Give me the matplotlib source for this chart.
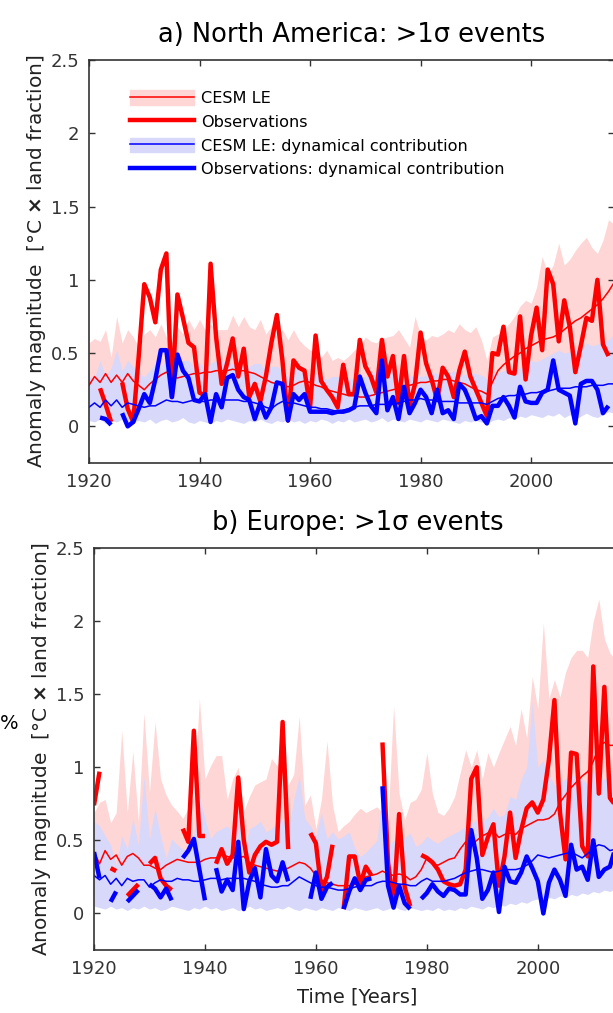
import numpy as np
import matplotlib
matplotlib.use("Agg")
import matplotlib.pyplot as plt
from matplotlib.patches import Patch
from matplotlib.lines import Line2D

nan = np.nan
years = np.arange(1920, 2016)

# ---- a) North America ----
na_obs = [nan, nan, 0.26, 0.15, 0.03, nan, 0.30, 0.12, 0.03, 0.48,
          0.97, 0.88, 0.71, 1.07, 1.18, 0.20, 0.90, 0.74, 0.57, 0.54,
          0.23, 0.21, 1.11, 0.61, 0.29, 0.43, 0.60, 0.34, 0.53, 0.20,
          0.29, 0.17, 0.34, 0.57, 0.76, 0.45, 0.04, 0.45, 0.40, 0.38,
          0.13, 0.62, 0.31, 0.25, 0.20, 0.13, 0.42, 0.22, 0.22, 0.59,
          0.41, 0.34, 0.23, 0.59, 0.34, 0.48, 0.16, 0.48, 0.14, 0.29,
          0.64, 0.43, 0.32, 0.18, 0.40, 0.34, 0.20, 0.38, 0.51, 0.34,
          0.25, 0.16, 0.07, 0.50, 0.49, 0.68, 0.37, 0.36, 0.75, 0.32,
          0.62, 0.81, 0.52, 1.07, 0.97, 0.58, 0.86, 0.68, 0.37, 0.55,
          0.74, 0.72, 1.00, 0.56, 0.48, nan]
na_obs_dyn = [nan, nan, 0.06, 0.05, 0.01, nan, 0.09, 0.00, 0.03, 0.12,
              0.22, 0.16, 0.32, 0.52, 0.52, 0.20, 0.49, 0.38, 0.33, 0.18,
              0.17, 0.22, 0.03, 0.22, 0.13, 0.33, 0.35, 0.25, 0.20, 0.18,
              0.05, 0.16, 0.06, 0.13, 0.30, 0.29, 0.04, 0.22, 0.18, 0.22,
              0.10, 0.10, 0.10, 0.10, 0.09, 0.10, 0.10, 0.11, 0.13, 0.34,
              0.23, 0.14, 0.09, 0.45, 0.11, 0.20, 0.05, 0.27, 0.09, 0.16,
              0.25, 0.20, 0.09, 0.25, 0.09, 0.11, 0.05, 0.29, 0.25, 0.16,
              0.05, 0.07, 0.02, 0.14, 0.14, 0.20, 0.14, 0.06, 0.27, 0.17,
              0.16, 0.16, 0.23, 0.25, 0.45, 0.25, 0.23, 0.21, 0.02, 0.29,
              0.31, 0.31, 0.25, 0.09, 0.14, nan]
na_cesm = [0.28, 0.34, 0.30, 0.36, 0.30, 0.35, 0.30, 0.36, 0.31, 0.28,
           0.25, 0.29, 0.32, 0.35, 0.37, 0.34, 0.33, 0.34, 0.35, 0.36,
           0.36, 0.37, 0.37, 0.38, 0.38, 0.38, 0.39, 0.38, 0.38, 0.37,
           0.36, 0.34, 0.32, 0.30, 0.29, 0.28, 0.27, 0.28, 0.30, 0.31,
           0.30, 0.28, 0.27, 0.25, 0.24, 0.23, 0.22, 0.21, 0.21, 0.20,
           0.20, 0.21, 0.22, 0.23, 0.24, 0.25, 0.26, 0.27, 0.28, 0.29,
           0.30, 0.30, 0.31, 0.31, 0.32, 0.32, 0.31, 0.30, 0.29, 0.27,
           0.25, 0.24, 0.22, 0.30, 0.38, 0.42, 0.45, 0.48, 0.50, 0.53,
           0.55, 0.57, 0.59, 0.60, 0.61, 0.63, 0.66, 0.69, 0.72, 0.74,
           0.77, 0.80, 0.83, 0.87, 0.92, 0.98]
na_cesm_hi = [0.57, 0.60, 0.58, 0.66, 0.47, 0.75, 0.57, 0.66, 0.61, 0.54,
              0.63, 0.66, 0.61, 0.70, 0.61, 0.57, 0.68, 0.63, 0.73, 0.66,
              0.73, 0.66, 0.70, 0.66, 0.66, 0.66, 0.76, 0.68, 0.75, 0.68,
              0.66, 0.73, 0.63, 0.68, 0.61, 0.66, 0.59, 0.66, 0.59, 0.55,
              0.52, 0.52, 0.47, 0.52, 0.45, 0.47, 0.45, 0.48, 0.52, 0.55,
              0.61, 0.58, 0.57, 0.60, 0.61, 0.62, 0.66, 0.60, 0.54, 0.75,
              0.62, 0.59, 0.62, 0.61, 0.63, 0.66, 0.64, 0.70, 0.66, 0.64,
              0.68, 0.59, 0.45, 0.61, 0.63, 0.66, 0.70, 0.75, 0.82, 0.86,
              0.84, 0.95, 1.16, 1.04, 1.10, 1.25, 1.10, 1.14, 1.20, 1.25,
              1.29, 1.22, 1.18, 1.27, 1.41, 1.38]
na_cesm_lo = [0.07, 0.06, 0.08, 0.05, 0.07, 0.06, 0.08, 0.04, 0.06, 0.07,
              0.06, 0.08, 0.05, 0.07, 0.08, 0.06, 0.07, 0.09, 0.06, 0.05,
              0.07, 0.06, 0.05, 0.07, 0.06, 0.08, 0.07, 0.06, 0.05, 0.07,
              0.06, 0.08, 0.06, 0.05, 0.07, 0.06, 0.08, 0.06, 0.07, 0.05,
              0.07, 0.06, 0.08, 0.07, 0.05, 0.07, 0.06, 0.08, 0.06, 0.07,
              0.08, 0.06, 0.07, 0.09, 0.06, 0.08, 0.07, 0.06, 0.08, 0.07,
              0.06, 0.08, 0.07, 0.06, 0.08, 0.07, 0.06, 0.05, 0.07, 0.06,
              0.07, 0.06, 0.05, 0.07, 0.08, 0.07, 0.09, 0.08, 0.10, 0.09,
              0.11, 0.10, 0.09, 0.11, 0.10, 0.12, 0.09, 0.11, 0.08, 0.10,
              0.12, 0.10, 0.09, 0.11, 0.13, 0.12]
na_dyn = [0.13, 0.16, 0.13, 0.18, 0.14, 0.18, 0.13, 0.16, 0.15, 0.14,
          0.13, 0.14, 0.14, 0.16, 0.18, 0.17, 0.17, 0.16, 0.17, 0.18,
          0.17, 0.17, 0.18, 0.18, 0.18, 0.18, 0.18, 0.18, 0.17, 0.17,
          0.16, 0.15, 0.13, 0.12, 0.15, 0.17, 0.16, 0.16, 0.15, 0.14,
          0.13, 0.13, 0.12, 0.12, 0.11, 0.10, 0.11, 0.12, 0.13, 0.14,
          0.14, 0.14, 0.15, 0.15, 0.15, 0.15, 0.16, 0.17, 0.18, 0.18,
          0.19, 0.18, 0.18, 0.17, 0.17, 0.17, 0.17, 0.16, 0.16, 0.16,
          0.16, 0.16, 0.15, 0.17, 0.19, 0.20, 0.21, 0.21, 0.22, 0.22,
          0.23, 0.23, 0.24, 0.24, 0.25, 0.26, 0.26, 0.26, 0.27, 0.27,
          0.27, 0.28, 0.28, 0.28, 0.29, 0.29]
na_dyn_hi = [0.34, 0.33, 0.45, 0.34, 0.40, 0.52, 0.38, 0.45, 0.41, 0.36,
             0.34, 0.38, 0.43, 0.41, 0.45, 0.38, 0.43, 0.45, 0.45, 0.41,
             0.43, 0.41, 0.43, 0.45, 0.45, 0.43, 0.43, 0.41, 0.41, 0.41,
             0.43, 0.43, 0.38, 0.41, 0.41, 0.38, 0.34, 0.43, 0.38, 0.36,
             0.34, 0.36, 0.36, 0.32, 0.34, 0.34, 0.32, 0.33, 0.32, 0.34,
             0.34, 0.36, 0.38, 0.40, 0.38, 0.41, 0.38, 0.36, 0.34, 0.36,
             0.34, 0.35, 0.37, 0.36, 0.35, 0.36, 0.38, 0.36, 0.35, 0.37,
             0.36, 0.35, 0.33, 0.36, 0.37, 0.38, 0.40, 0.38, 0.40, 0.43,
             0.45, 0.44, 0.46, 0.48, 0.50, 0.52, 0.50, 0.51, 0.53, 0.52,
             0.57, 0.55, 0.56, 0.58, 0.59, 0.63]
na_dyn_lo = [0.04, 0.03, 0.05, 0.02, 0.04, 0.03, 0.05, 0.01, 0.03, 0.04,
             0.03, 0.05, 0.02, 0.04, 0.05, 0.03, 0.04, 0.06, 0.03, 0.02,
             0.04, 0.03, 0.02, 0.04, 0.03, 0.05, 0.04, 0.03, 0.02, 0.04,
             0.03, 0.05, 0.03, 0.02, 0.04, 0.03, 0.05, 0.03, 0.04, 0.02,
             0.04, 0.03, 0.05, 0.04, 0.02, 0.04, 0.03, 0.05, 0.03, 0.04,
             0.05, 0.03, 0.04, 0.06, 0.03, 0.05, 0.04, 0.03, 0.05, 0.04,
             0.03, 0.05, 0.04, 0.03, 0.05, 0.04, 0.03, 0.02, 0.04, 0.03,
             0.04, 0.03, 0.02, 0.04, 0.05, 0.04, 0.06, 0.05, 0.07, 0.06,
             0.08, 0.07, 0.06, 0.08, 0.07, 0.09, 0.06, 0.08, 0.05, 0.07,
             0.09, 0.07, 0.06, 0.08, 0.10, 0.09]

# ---- b) Europe ----
eu_obs = [0.74, 0.97, nan, 0.31, 0.29, nan, 0.12, 0.16, 0.20, nan,
          0.34, 0.38, 0.24, 0.19, 0.16, nan, 0.58, 0.49, 1.25, 0.53,
          0.53, nan, 0.34, 0.44, 0.34, 0.40, 0.93, 0.50, 0.28, 0.40,
          0.46, 0.49, 0.47, 0.49, 1.31, 0.44, nan, nan, nan, 0.55,
          0.48, 0.16, 0.25, 0.47, nan, 0.03, 0.39, 0.39, 0.20, 0.32,
          0.26, nan, 1.17, 0.35, 0.06, 0.68, 0.18, 0.05, nan, 0.40,
          0.38, 0.35, 0.30, 0.22, 0.20, 0.19, 0.20, 0.30, 0.92, 1.00,
          0.40, 0.52, 0.61, 0.19, 0.39, 0.69, 0.38, 0.57, 0.72, 0.76,
          0.69, 0.78, 1.05, 1.46, 0.69, 0.37, 1.10, 1.09, 0.46, 0.39,
          1.69, 0.82, 1.55, 0.79, 0.74, nan]
eu_obs_dyn = [0.42, 0.24, nan, 0.08, 0.15, nan, 0.08, 0.12, 0.16, nan,
              0.20, 0.17, 0.11, 0.17, 0.09, nan, 0.38, 0.43, 0.51, 0.30,
              0.09, nan, 0.31, 0.15, 0.23, 0.16, 0.49, 0.03, 0.22, 0.31,
              0.11, 0.44, 0.26, 0.22, 0.35, 0.22, nan, nan, nan, 0.10,
              0.28, 0.10, 0.18, 0.21, nan, 0.03, 0.15, 0.24, 0.16, 0.23,
              0.24, nan, 0.87, 0.19, 0.04, 0.19, 0.07, 0.03, nan, 0.10,
              0.14, 0.20, 0.15, 0.12, 0.17, 0.16, 0.13, 0.13, 0.57, 0.38,
              0.10, 0.16, 0.28, 0.01, 0.32, 0.22, 0.21, 0.28, 0.39, 0.31,
              0.22, 0.00, 0.21, 0.30, 0.23, 0.12, 0.47, 0.30, 0.32, 0.23,
              0.50, 0.25, 0.30, 0.32, 0.45, nan]
eu_cesm = [0.42, 0.34, 0.43, 0.37, 0.40, 0.33, 0.39, 0.41, 0.38, 0.33,
           0.33, 0.31, 0.30, 0.33, 0.35, 0.37, 0.36, 0.35, 0.35, 0.35,
           0.37, 0.38, 0.38, 0.40, 0.39, 0.38, 0.38, 0.39, 0.35, 0.33,
           0.32, 0.31, 0.30, 0.29, 0.30, 0.31, 0.33, 0.35, 0.34, 0.31,
           0.26, 0.23, 0.21, 0.20, 0.19, 0.19, 0.19, 0.20, 0.22, 0.25,
           0.26, 0.27, 0.29, 0.27, 0.26, 0.27, 0.26, 0.23, 0.25, 0.30,
           0.38, 0.34, 0.33, 0.35, 0.37, 0.38, 0.44, 0.49, 0.47, 0.50,
           0.53, 0.55, 0.56, 0.52, 0.54, 0.55, 0.54, 0.58, 0.60, 0.62,
           0.64, 0.64, 0.65, 0.68, 0.76, 0.81, 0.86, 0.90, 0.94, 0.97,
           1.04, 1.14, 1.17, 1.15, 1.15, 1.14]
eu_cesm_hi = [0.69, 0.76, 0.78, 0.62, 0.69, 1.25, 0.69, 1.11, 0.63, 1.37,
              0.83, 1.31, 0.92, 0.81, 0.74, 0.70, 0.65, 0.72, 0.80, 1.47,
              0.92, 1.01, 1.08, 1.08, 0.78, 0.92, 1.00, 0.70, 0.80, 0.88,
              0.90, 0.92, 1.06, 1.01, 1.08, 0.88, 0.95, 1.35, 0.74, 0.81,
              0.58, 0.78, 1.18, 0.74, 0.56, 0.60, 0.63, 0.68, 0.72, 0.69,
              0.71, 0.73, 0.69, 0.64, 1.42, 0.82, 0.64, 0.76, 0.78, 0.85,
              1.10, 0.82, 0.69, 0.67, 0.72, 0.80, 0.96, 1.12, 1.00, 1.12,
              0.92, 1.10, 1.00, 1.10, 1.19, 1.28, 1.15, 1.40, 1.20, 1.62,
              1.40, 1.99, 1.47, 1.60, 1.48, 1.65, 1.75, 1.80, 1.80, 1.75,
              2.00, 2.15, 1.88, 1.78, 1.74, 1.70]
eu_cesm_lo = [0.08, 0.07, 0.06, 0.08, 0.06, 0.07, 0.05, 0.07, 0.06, 0.08,
              0.06, 0.07, 0.05, 0.06, 0.08, 0.07, 0.06, 0.05, 0.07, 0.06,
              0.08, 0.06, 0.07, 0.05, 0.06, 0.07, 0.05, 0.06, 0.08, 0.06,
              0.07, 0.05, 0.06, 0.07, 0.06, 0.08, 0.06, 0.05, 0.07, 0.06,
              0.05, 0.07, 0.06, 0.05, 0.07, 0.06, 0.05, 0.07, 0.06, 0.05,
              0.06, 0.07, 0.05, 0.06, 0.08, 0.06, 0.05, 0.07, 0.06, 0.05,
              0.06, 0.05, 0.07, 0.05, 0.06, 0.05, 0.07, 0.06, 0.08, 0.07,
              0.06, 0.08, 0.07, 0.09, 0.08, 0.10, 0.09, 0.11, 0.10, 0.12,
              0.13, 0.11, 0.14, 0.13, 0.15, 0.14, 0.16, 0.15, 0.17, 0.16,
              0.18, 0.17, 0.19, 0.18, 0.20, 0.21]
eu_dyn = [0.26, 0.23, 0.26, 0.20, 0.24, 0.19, 0.24, 0.22, 0.23, 0.23,
          0.18, 0.21, 0.23, 0.22, 0.22, 0.24, 0.23, 0.23, 0.22, 0.22,
          0.23, 0.24, 0.24, 0.23, 0.24, 0.24, 0.24, 0.24, 0.23, 0.22,
          0.20, 0.19, 0.18, 0.18, 0.19, 0.19, 0.22, 0.25, 0.23, 0.21,
          0.19, 0.18, 0.18, 0.17, 0.16, 0.16, 0.17, 0.18, 0.19, 0.19,
          0.19, 0.21, 0.22, 0.22, 0.21, 0.20, 0.20, 0.19, 0.19, 0.22,
          0.24, 0.22, 0.22, 0.22, 0.23, 0.24, 0.26, 0.28, 0.29, 0.30,
          0.30, 0.29, 0.28, 0.29, 0.30, 0.30, 0.30, 0.31, 0.33, 0.36,
          0.40, 0.39, 0.38, 0.39, 0.40, 0.41, 0.42, 0.40, 0.38, 0.41,
          0.45, 0.47, 0.46, 0.43, 0.44, 0.45]
eu_dyn_hi = [0.63, 0.60, 0.53, 0.47, 0.33, 0.53, 0.44, 0.65, 0.47, 0.94,
             0.51, 0.72, 0.53, 0.38, 0.51, 0.47, 0.44, 0.42, 0.55, 0.80,
             0.65, 0.51, 0.56, 0.58, 0.60, 0.56, 0.69, 0.42, 0.58, 0.60,
             0.63, 0.56, 0.58, 0.62, 0.65, 0.56, 0.78, 0.94, 0.65, 0.60,
             0.53, 0.69, 0.51, 0.56, 0.51, 0.53, 0.56, 0.45, 0.39, 0.42,
             0.46, 0.50, 0.82, 0.46, 0.50, 0.48, 0.52, 0.55, 0.46, 0.48,
             0.53, 0.50, 0.48, 0.51, 0.53, 0.55, 0.57, 0.60, 0.62, 0.64,
             0.63, 0.66, 0.72, 0.66, 0.68, 0.80, 0.78, 0.92, 1.00, 1.45,
             1.00, 1.05, 0.95, 0.88, 0.90, 0.92, 0.94, 0.95, 0.92, 0.88,
             0.98, 0.92, 0.92, 0.95, 1.00, 1.00]
eu_dyn_lo = [0.05, 0.04, 0.03, 0.05, 0.03, 0.04, 0.02, 0.04, 0.03, 0.05,
             0.03, 0.04, 0.02, 0.03, 0.05, 0.04, 0.03, 0.02, 0.04, 0.03,
             0.05, 0.03, 0.04, 0.02, 0.03, 0.04, 0.02, 0.03, 0.05, 0.03,
             0.04, 0.02, 0.03, 0.04, 0.03, 0.05, 0.03, 0.02, 0.04, 0.03,
             0.02, 0.04, 0.03, 0.02, 0.04, 0.03, 0.02, 0.04, 0.03, 0.02,
             0.03, 0.04, 0.02, 0.03, 0.05, 0.03, 0.02, 0.04, 0.03, 0.02,
             0.03, 0.02, 0.04, 0.02, 0.03, 0.02, 0.04, 0.03, 0.05, 0.04,
             0.03, 0.05, 0.04, 0.06, 0.05, 0.07, 0.06, 0.08, 0.07, 0.09,
             0.10, 0.08, 0.11, 0.10, 0.12, 0.11, 0.13, 0.12, 0.14, 0.13,
             0.15, 0.14, 0.16, 0.15, 0.17, 0.18]

xticks = [1920, 1940, 1960, 1980, 2000]
yticks = [0, 0.5, 1, 1.5, 2, 2.5]
ylab = 'Anomaly magnitude  [°C $\\mathbf{\\times}$ land fraction]'

red_band = '#ffd6d6'
blue_band = '#d8d8fa'
axcol = '#333333'

fig = plt.figure(figsize=(6.13, 10.13), dpi=100)
ax_a = fig.add_axes([89/613, 1 - 463/1013, 525/613, 403/1013])
ax_b = fig.add_axes([94/613, 1 - 950/1013, 527/613, 402/1013])


def panel(ax, title, obs, obs_dyn, cesm, c_lo, c_hi, dyn, d_lo, d_hi):
    ax.fill_between(years, c_lo, c_hi, color=red_band, lw=0)
    ax.fill_between(years, d_lo, d_hi, color=blue_band, lw=0)
    ax.plot(years, cesm, color='red', lw=1.1)
    ax.plot(years, obs, color='red', lw=3.2, solid_capstyle='butt')
    ax.plot(years, dyn, color='blue', lw=1.1)
    ax.plot(years, obs_dyn, color='blue', lw=3.2, solid_capstyle='butt')
    ax.set_xticks(xticks)
    ax.set_yticks(yticks)
    ax.set_yticklabels(['0', '0.5', '1', '1.5', '2', '2.5'])
    ax.set_xlim(1920, 2015)
    ax.set_ylim(-0.25, 2.5)
    ax.tick_params(direction='in', length=4, width=1, top=True, right=True,
                   labelsize=13, colors=axcol, pad=7)
    for s in ax.spines.values():
        s.set_color(axcol)
        s.set_linewidth(1.2)
    ax.set_title(title, fontsize=18.5, pad=13)
    ax.set_ylabel(ylab, fontsize=14.5, color='#222222', labelpad=2)


panel(ax_a, 'a) North America: >1σ events', na_obs, na_obs_dyn, na_cesm,
      na_cesm_lo, na_cesm_hi, na_dyn, na_dyn_lo, na_dyn_hi)
panel(ax_b, 'b) Europe: >1σ events', eu_obs, eu_obs_dyn, eu_cesm,
      eu_cesm_lo, eu_cesm_hi, eu_dyn, eu_dyn_lo, eu_dyn_hi)
ax_b.set_xlabel('Time [Years]', fontsize=14, color='#222222', labelpad=7)

handles = [(Patch(color=red_band), Line2D([], [], color='red', lw=1.1)),
           Line2D([], [], color='red', lw=3.2),
           (Patch(color=blue_band), Line2D([], [], color='blue', lw=1.1)),
           Line2D([], [], color='blue', lw=3.2)]
labels = ['CESM LE', 'Observations', 'CESM LE: dynamical contribution',
          'Observations: dynamical contribution']
ax_a.legend(handles, labels, loc='upper left', bbox_to_anchor=(0.062, 0.945),
            frameon=False, fontsize=11.6, handlelength=4.0, handleheight=1.0,
            handletextpad=0.45, labelspacing=0.5, borderpad=0)

fig.text(0.0, 1 - 723/1013, '%', fontsize=14, va='center', ha='left')

fig.savefig('out.png', dpi=100)
